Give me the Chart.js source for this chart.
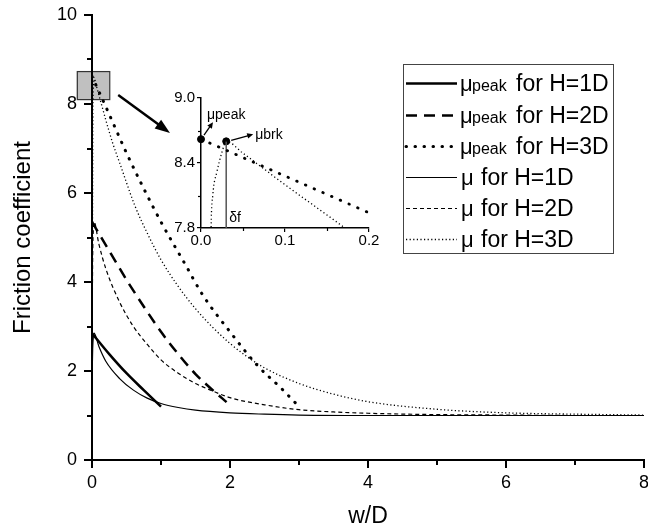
<!DOCTYPE html>
<html>
<head>
<meta charset="utf-8">
<script src="https://cdn.jsdelivr.net/npm/chart.js@4/dist/chart.umd.min.js"></script>
<style>
html,body{margin:0;padding:0;background:#fff;}
#wrap{position:relative;width:648px;height:531px;}
#main{position:absolute;left:0;top:0;}
#inset{position:absolute;left:150px;top:85px;}
</style>
</head>
<body>
<div id="wrap">
<canvas id="main" width="648" height="531"></canvas>
<canvas id="inset" width="240" height="170"></canvas>
</div>
<script>
// ---------- data ----------
const peak1X = [0, 0.25, 0.5, 0.75, 1.0];
const peak1Y = [2.85, 2.38, 1.95, 1.57, 1.2];

const peak2X = [0, 0.25, 0.5, 0.75, 1.0, 1.25, 1.5, 1.75, 1.95];
const peak2Y = [5.35, 4.7, 4.05, 3.45, 2.88, 2.38, 1.93, 1.57, 1.3];

const peak3X = [0, 0.1, 0.2, 0.5, 0.75, 1.0, 1.35, 1.6, 2.0, 2.4, 2.75, 3.0];
const peak3Y = [8.62, 8.28, 7.94, 6.9, 6.1, 5.35, 4.4, 3.72, 2.88, 2.12, 1.6, 1.2];

const mu1X = [0, 0.01, 0.02, 0.03, 0.1, 0.2, 0.4, 0.6, 0.8, 1.0, 1.25, 1.5, 2.0, 2.5, 3.0, 4.0, 5, 6, 7, 8];
const mu1Y = [1.75, 2.5, 2.78, 2.85, 2.55, 2.22, 1.83, 1.57, 1.39, 1.27, 1.18, 1.12, 1.06, 1.03, 1.01, 1.0, 1.0, 1.0, 1.0, 1.0];

const mu2X = [0, 0.01, 0.02, 0.03, 0.1, 0.2, 0.4, 0.6, 0.8, 1.0, 1.25, 1.5, 1.75, 2.0, 2.5, 3.0, 3.5, 4, 5, 6, 7, 8];
const mu2Y = [2.4, 4.6, 5.2, 5.35, 4.85, 4.3, 3.55, 3.0, 2.6, 2.25, 1.95, 1.72, 1.55, 1.4, 1.24, 1.13, 1.08, 1.05, 1.02, 1.01, 1.0, 1.0];

const mu3X = [0, 0.01, 0.012, 0.014, 0.019, 0.025, 0.03, 0.05, 0.1, 0.15, 0.2, 0.3, 0.4, 0.62, 0.8, 1.0, 1.25, 1.5, 1.75, 2.0, 2.25, 2.5, 3.0, 3.5, 4.0, 5, 6, 7, 8];
const mu3Y = [3.0, 6.5, 7.8, 8.1, 8.32, 8.5, 8.6, 8.49, 8.2, 7.92, 7.64, 7.12, 6.68, 5.72, 5.1, 4.5, 3.9, 3.4, 2.98, 2.62, 2.32, 2.07, 1.72, 1.48, 1.31, 1.14, 1.06, 1.03, 1.01];

// markers in the inset: mu_peak and mu_brk
const markX = [0, 0.03];
const markY = [8.62, 8.6];
// delta_f vertical line
const deltaX = [0.03, 0.03];
const deltaY = [7.8, 8.6];

const legendLabels = ['for H=1D', 'for H=2D', 'for H=3D', 'for H=1D', 'for H=2D', 'for H=3D'];
const legendPeak = [true, true, true, false, false, false];

const mainXTicks = [0, 2, 4, 6, 8];
const mainYTicks = [0, 2, 4, 6, 8, 10];
const mainMinorX = [1, 3, 5, 7];
const mainMinorY = [1, 3, 5, 7, 9];
const insetXTicks = [0, 0.1, 0.2];
const insetYTicks = [7.8, 8.4, 9.0];
const insetMinorX = [0.05, 0.15];
const insetMinorY = [8.1, 8.7];

// ---------- helpers ----------
const FONT = "'Liberation Sans', Arial, Helvetica, sans-serif";
function pts(xs, ys) { return xs.map((x, i) => ({ x: x, y: ys[i] })); }

const styles = [
  { borderWidth: 2.5, borderDash: [] },
  { borderWidth: 2.5, borderDash: [11, 7] },
  { borderWidth: 3, borderDash: [0.5, 8.5], borderCapStyle: 'round' },
  { borderWidth: 1.2, borderDash: [] },
  { borderWidth: 1.2, borderDash: [4, 3] },
  { borderWidth: 1.3, borderDash: [1.2, 2.4] }
];

function arrow(ctx, x0, y0, x1, y1, w, head, hw) {
  const a = Math.atan2(y1 - y0, x1 - x0);
  ctx.save();
  ctx.strokeStyle = '#000'; ctx.fillStyle = '#000'; ctx.lineWidth = w;
  ctx.setLineDash([]);
  ctx.beginPath();
  ctx.moveTo(x0, y0);
  ctx.lineTo(x1 - Math.cos(a) * head * 0.8, y1 - Math.sin(a) * head * 0.8);
  ctx.stroke();
  ctx.beginPath();
  ctx.moveTo(x1, y1);
  ctx.lineTo(x1 - Math.cos(a) * head + Math.sin(a) * hw, y1 - Math.sin(a) * head - Math.cos(a) * hw);
  ctx.lineTo(x1 - Math.cos(a) * head - Math.sin(a) * hw, y1 - Math.sin(a) * head + Math.cos(a) * hw);
  ctx.closePath();
  ctx.fill();
  ctx.restore();
}

// ---------- main chart ----------
const mainSeries = [
  [peak1X, peak1Y], [peak2X, peak2Y], [peak3X, peak3Y],
  [mu1X, mu1Y], [mu2X, mu2Y], [mu3X, mu3Y]
];
const mainNames = ['μpeak for H=1D', 'μpeak for H=2D', 'μpeak for H=3D', 'μ for H=1D', 'μ for H=2D', 'μ for H=3D'];

const mainDatasets = mainSeries.map((s, i) => Object.assign({
  label: mainNames[i],
  data: pts(s[0], s[1]),
  showLine: true,
  borderColor: '#000',
  backgroundColor: '#000',
  pointRadius: 0,
  cubicInterpolationMode: 'monotone',
  fill: false
}, styles[i]));

const mainPlugin = {
  id: 'mainDeco',
  beforeDraw(chart) {
    const ctx = chart.ctx, xs = chart.scales.x, ys = chart.scales.y;
    const x0 = xs.getPixelForValue(-0.22), x1 = xs.getPixelForValue(0.25);
    const y0 = ys.getPixelForValue(8.74), y1 = ys.getPixelForValue(8.11);
    ctx.save();
    ctx.fillStyle = '#c0c0c0';
    ctx.strokeStyle = '#333';
    ctx.lineWidth = 1.2;
    ctx.fillRect(x0, y0, x1 - x0, y1 - y0);
    ctx.strokeRect(x0 + 0.5, y0 + 0.5, x1 - x0, y1 - y0);
    ctx.restore();
  },
  afterDraw(chart) {
    const ctx = chart.ctx, xs = chart.scales.x, ys = chart.scales.y, ca = chart.chartArea;
    ctx.save();
    ctx.strokeStyle = '#000';
    ctx.lineWidth = 2;
    mainMinorY.forEach(v => {
      const p = Math.round(ys.getPixelForValue(v));
      ctx.beginPath(); ctx.moveTo(ca.left - 5, p); ctx.lineTo(ca.left, p); ctx.stroke();
    });
    mainMinorX.forEach(v => {
      const p = Math.round(xs.getPixelForValue(v));
      ctx.beginPath(); ctx.moveTo(p, ca.bottom); ctx.lineTo(p, ca.bottom + 5); ctx.stroke();
    });
    ctx.restore();

    arrow(ctx, xs.getPixelForValue(0.38), ys.getPixelForValue(8.2),
               xs.getPixelForValue(1.13), ys.getPixelForValue(7.35), 2.5, 15, 5.5);

    // legend
    const L = 403, T = 64, R = 613, B = 253;
    ctx.save();
    ctx.fillStyle = '#fff';
    ctx.fillRect(L, T, R - L, B - T);
    ctx.strokeStyle = '#444';
    ctx.lineWidth = 1;
    ctx.strokeRect(L + 0.5, T + 0.5, R - L, B - T);
    const rows = [83, 115, 146, 177, 208, 239];
    rows.forEach((ry, i) => {
      const st = styles[i];
      ctx.save();
      ctx.strokeStyle = '#000';
      ctx.lineWidth = st.borderWidth;
      ctx.setLineDash(st.borderDash);
      ctx.lineCap = st.borderCapStyle || 'butt';
      ctx.beginPath();
      ctx.moveTo(L + 3, ry + 0.5);
      ctx.lineTo(457, ry + 0.5);
      ctx.stroke();
      ctx.restore();
      ctx.fillStyle = '#000';
      ctx.textBaseline = 'alphabetic';
      const base = ry + 8;
      if (legendPeak[i]) {
        ctx.font = '22px ' + FONT;
        ctx.fillText('μ', 460, base);
        ctx.font = '16px ' + FONT;
        ctx.fillText('peak', 472, base);
        ctx.font = '23px ' + FONT;
        ctx.fillText(legendLabels[i], 516, base);
      } else {
        ctx.font = '22px ' + FONT;
        ctx.fillText('μ', 461, base);
        ctx.font = '23px ' + FONT;
        ctx.fillText(legendLabels[i], 481, base);
      }
    });
    ctx.restore();
  }
};

new Chart(document.getElementById('main'), {
  type: 'scatter',
  data: { datasets: mainDatasets },
  options: {
    responsive: false,
    animation: false,
    devicePixelRatio: 1,
    layout: { padding: { left: 0, top: 15, right: 4, bottom: 0 } },
    plugins: { legend: { display: false }, tooltip: { enabled: false } },
    scales: {
      x: {
        type: 'linear', min: 0, max: 8,
        afterBuildTicks: s => { s.ticks = mainXTicks.map(v => ({ value: v })); },
        afterFit: s => { s.height = 71; s.paddingRight = 0; s.paddingLeft = 0; },
        ticks: { color: '#000', font: { size: 18, family: FONT }, padding: 4, maxRotation: 0, autoSkip: false },
        grid: { drawOnChartArea: false, drawTicks: true, tickLength: 8, color: '#000', lineWidth: 2 },
        border: { display: true, color: '#000', width: 2 },
        title: { display: true, text: 'w/D', color: '#000', font: { size: 23, family: FONT }, padding: { top: 0, bottom: 1 } }
      },
      y: {
        type: 'linear', min: 0, max: 10,
        afterBuildTicks: s => { s.ticks = mainYTicks.map(v => ({ value: v })); },
        afterFit: s => { s.width = 92; s.paddingTop = 0; s.paddingBottom = 0; },
        ticks: { color: '#000', font: { size: 18, family: FONT }, padding: 7, autoSkip: false },
        grid: { drawOnChartArea: false, drawTicks: true, tickLength: 8, color: '#000', lineWidth: 2 },
        border: { display: true, color: '#000', width: 2 },
        title: { display: true, text: 'Friction coefficient', color: '#000', font: { size: 24, family: FONT }, padding: { top: 9, bottom: 0 } }
      }
    }
  },
  plugins: [mainPlugin]
});

// ---------- inset chart ----------
const insetDatasets = [
  Object.assign({ data: pts(peak3X, peak3Y), showLine: true, borderColor: '#000', pointRadius: 0, cubicInterpolationMode: 'monotone' },
    { borderWidth: 2.8, borderDash: [0.5, 9], borderCapStyle: 'round' }),
  Object.assign({ data: pts(mu3X, mu3Y), showLine: true, borderColor: '#000', pointRadius: 0, cubicInterpolationMode: 'monotone' },
    { borderWidth: 1.3, borderDash: [1.2, 2.6] }),
  { data: pts(deltaX, deltaY), showLine: true, borderColor: '#555', borderWidth: 1.5, pointRadius: 0 },
  { data: pts(markX, markY), showLine: false, pointRadius: 3.5, backgroundColor: '#000', borderColor: '#000', clip: false }
];

const insetPlugin = {
  id: 'insetDeco',
  afterDraw(chart) {
    const ctx = chart.ctx, xs = chart.scales.x, ys = chart.scales.y, ca = chart.chartArea;
    ctx.save();
    ctx.strokeStyle = '#000';
    ctx.lineWidth = 1.2;
    insetMinorY.forEach(v => {
      const p = Math.round(ys.getPixelForValue(v)) + 0.5;
      ctx.beginPath(); ctx.moveTo(ca.left - 3, p); ctx.lineTo(ca.left, p); ctx.stroke();
    });
    insetMinorX.forEach(v => {
      const p = Math.round(xs.getPixelForValue(v)) + 0.5;
      ctx.beginPath(); ctx.moveTo(p, ca.bottom); ctx.lineTo(p, ca.bottom + 3); ctx.stroke();
    });
    ctx.restore();

    const px = xs.getPixelForValue(markX[0]), py = ys.getPixelForValue(markY[0]);
    const bx = xs.getPixelForValue(markX[1]), by = ys.getPixelForValue(markY[1]);
    arrow(ctx, px + 3, py - 4, px + 12, py - 17, 1.3, 6, 2.8);
    arrow(ctx, bx + 5, by - 1, bx + 27, by - 7, 1.3, 6, 2.8);
    ctx.save();
    ctx.fillStyle = '#000';
    ctx.font = '14px ' + FONT;
    ctx.textBaseline = 'alphabetic';
    ctx.fillText('μpeak', px + 6, py - 20);
    ctx.fillText('μbrk', bx + 29, by - 2);
    ctx.fillText('δf', bx + 3, ys.getPixelForValue(7.8) - 6);
    ctx.restore();
  }
};

new Chart(document.getElementById('inset'), {
  type: 'scatter',
  data: { datasets: insetDatasets },
  options: {
    responsive: false,
    animation: false,
    devicePixelRatio: 1,
    layout: { padding: { left: 0, top: 13, right: 21, bottom: 0 } },
    plugins: { legend: { display: false }, tooltip: { enabled: false } },
    scales: {
      x: {
        type: 'linear', min: 0, max: 0.2,
        afterBuildTicks: s => { s.ticks = insetXTicks.map(v => ({ value: v })); },
        afterFit: s => { s.height = 27; },
        ticks: { color: '#000', font: { size: 15, family: FONT }, padding: 0, maxRotation: 0, autoSkip: false,
                 callback: v => Number(v).toFixed(1) },
        grid: { drawOnChartArea: false, drawTicks: true, tickLength: 4, color: '#000', lineWidth: 1.2 },
        border: { display: true, color: '#000', width: 1.5 }
      },
      y: {
        type: 'linear', min: 7.8, max: 9.0,
        afterBuildTicks: s => { s.ticks = insetYTicks.map(v => ({ value: v })); },
        afterFit: s => { s.width = 51; },
        ticks: { color: '#000', font: { size: 15, family: FONT }, padding: 2, autoSkip: false,
                 callback: v => Number(v).toFixed(1) },
        grid: { drawOnChartArea: false, drawTicks: true, tickLength: 4, color: '#000', lineWidth: 1.2 },
        border: { display: true, color: '#000', width: 1.5 }
      }
    }
  },
  plugins: [insetPlugin]
});
</script>
</body>
</html>
